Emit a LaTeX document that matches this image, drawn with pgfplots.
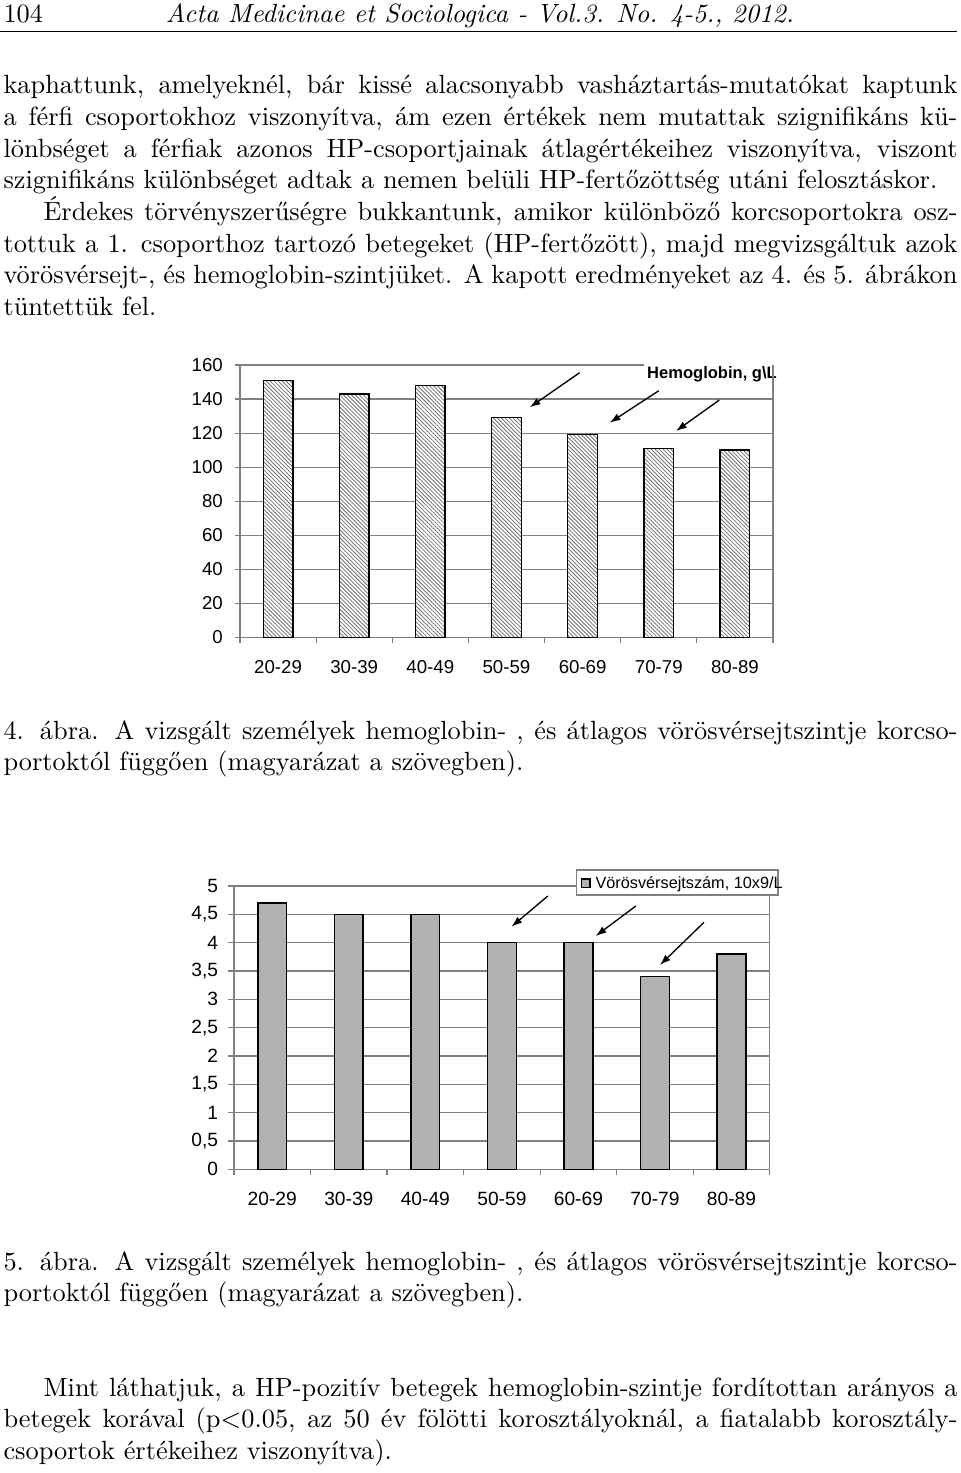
\documentclass[border=0pt]{standalone}
\usepackage{fontspec}
\usepackage{pgfplots}
\pgfplotsset{compat=1.18}
\usetikzlibrary{patterns.meta,arrows.meta}
\newfontfamily\arial{Liberation Sans}
\definecolor{gridc}{RGB}{128,128,128}
\definecolor{barg}{RGB}{178,178,178}
\definecolor{hatch}{RGB}{110,110,110}
\newcommand\bodyf{\fontsize{9.88}{11.85}\selectfont}
\newcommand\JL[2]{\node[anchor=base west,inner sep=0pt,font=\bodyf] at (3,#1) {\makebox[357.75pt][s]{#2}};}
\newcommand\JI[2]{\node[anchor=base west,inner sep=0pt,font=\bodyf] at (43,#1) {\makebox[342.75pt][s]{#2}};}
\newcommand\LL[2]{\node[anchor=base west,inner sep=0pt,font=\bodyf] at (3,#1) {#2};}
\begin{document}
\begin{tikzpicture}
\useasboundingbox (0,0) rectangle (360pt,-552.375pt);
\pgfplotsset{
 mychart/.style={
  scale only axis, anchor=south west,
  xmin=-0.5, xmax=6.5, xtick={0,1,2,3,4,5,6},
  xticklabels={20-29,30-39,40-49,50-59,60-69,70-79,80-89},
  ymin=0, major tick length=0pt, tick style={draw=none},
  axis line style={draw=gridc, line width=0.45pt},
  ymajorgrids, major grid style={draw=gridc, line width=0.45pt},
  ybar, clip=false,
  xticklabel style={anchor=north, inner sep=0pt, yshift=-8.3pt},
  yticklabel style={anchor=east, inner sep=0pt},
  ticklabel style={font=\arial\fontsize{7}{8}\selectfont},
 }
}
% ---- Chart 1: Hemoglobin
\begin{axis}[mychart, at={(90pt,-239.0625pt)}, width=199.875pt, height=102.19pt,
  ymax=160, ytick={0,20,40,60,80,100,120,140,160},
  yticklabels={0,20,40,60,80,100,120,140,160},
  bar width=11.1pt, yticklabel style={xshift=-6.25pt}]
\addplot[draw=black, line width=0.5pt, fill=white,
  postaction={pattern color=hatch, pattern={Lines[angle=-45,distance=1.05pt,line width=0.3pt]}}]
  coordinates {(0,151) (1,143) (2,148) (3,129) (4,119) (5,111) (6,110)};
\pgfplotsinvokeforeach{0,20,40,60,80,100,120,140,160}{\draw[gridc,line width=0.45pt] (axis cs:-0.5,#1) -- ++(-1.9pt,0pt);}
\pgfplotsinvokeforeach{-0.5,0.5,1.5,2.5,3.5,4.5,5.5,6.5}{\draw[gridc,line width=0.45pt] (axis cs:#1,0) -- ++(0pt,-2.1pt);}
\end{axis}
% ---- Chart 2: red blood cell count
\begin{axis}[mychart, at={(87.75pt,-438.49pt)}, width=200.925pt, height=106.24pt,
  ymax=5, ytick={0,0.5,1,1.5,2,2.5,3,3.5,4,4.5,5},
  yticklabels={0,{0,5},1,{1,5},2,{2,5},3,{3,5},4,{4,5},5},
  bar width=10.76pt, yticklabel style={xshift=-5.74pt},
  ticklabel style={font=\arial\fontsize{7.2}{8.5}\selectfont}]
\addplot[draw=black, line width=0.55pt, fill=barg]
  coordinates {(0,4.7) (1,4.5) (2,4.5) (3,4.0) (4,4.0) (5,3.4) (6,3.8)};
\pgfplotsinvokeforeach{0,0.5,1,1.5,2,2.5,3,3.5,4,4.5,5}{\draw[gridc,line width=0.45pt] (axis cs:-0.5,#1) -- ++(-2.1pt,0pt);}
\pgfplotsinvokeforeach{-0.5,0.5,1.5,2.5,3.5,4.5,5.5,6.5}{\draw[gridc,line width=0.45pt] (axis cs:#1,0) -- ++(0pt,-2.1pt);}
\end{axis}
\begin{scope}[x=0.375pt,y=-0.375pt]
% header
\node[anchor=base west,inner sep=0pt,font=\bodyf] at (3,23) {104};
\node[anchor=base,inner sep=0pt,font=\bodyf\itshape] at (480,23) {Acta Medicinae et Sociologica - Vol.3. No. 4-5., 2012.};
\draw[line width=0.4pt] (0,31.5) -- (957,31.5);
% paragraph
\JL{94}{kaphattunk, amelyeknél, bár kissé alacsonyabb vasháztartás-mutatókat kaptunk}
\JL{125.6}{a férfi csoportokhoz viszonyítva, ám ezen értékek nem mutattak szignifikáns kü-}
\JL{157.2}{lönbséget a férfiak azonos HP-csoportjainak átlagértékeihez viszonyítva, viszont}
\LL{188.8}{szignifikáns különbséget adtak a nemen belüli HP-fertőzöttség utáni felosztáskor.}
\JI{220.4}{Érdekes törvényszerűségre bukkantunk, amikor különböző korcsoportokra osz-}
\JL{252}{tottuk a 1. csoporthoz tartozó betegeket (HP-fertőzött), majd megvizsgáltuk azok}
\JL{283.6}{vörösvérsejt-, és hemoglobin-szintjüket. A kapott eredményeket az 4. és 5. ábrákon}
\LL{315.2}{tüntettük fel.}
% caption 4
\JL{739}{4. ábra. A vizsgált személyek hemoglobin- , és átlagos vörösvérsejtszintje korcso-}
\LL{770.5}{portoktól függően (magyarázat a szövegben).}
% caption 5
\JL{1270}{5. ábra. A vizsgált személyek hemoglobin- , és átlagos vörösvérsejtszintje korcso-}
\LL{1301.6}{portoktól függően (magyarázat a szövegben).}
% final paragraph
\JI{1396}{Mint láthatjuk, a HP-pozitív betegek hemoglobin-szintje fordítottan arányos a}
\JL{1427.6}{betegek korával (p$<$0.05, az 50 év fölötti korosztályoknál, a fiatalabb korosztály-}
\LL{1459.2}{csoportok értékeihez viszonyítva).}
% chart 1 legend and arrows
\fill[white] (644,361) rectangle (777,384);
\node[anchor=base west,inner sep=0pt,font=\arial\bfseries\fontsize{6.2}{7}\selectfont] at (646.7,378.5) {Hemoglobin, g\textbackslash L};
\draw[gridc,line width=0.45pt] (773,365) -- (773,637.5);
\draw[line width=0.5pt,-{Latex[length=4pt,width=2.8pt]}] (579.6,372.7) -- (529.8,407.3);
\draw[line width=0.5pt,-{Latex[length=4pt,width=2.8pt]}] (658.8,390.7) -- (609.8,422.7);
\draw[line width=0.5pt,-{Latex[length=4pt,width=2.8pt]}] (719.3,400) -- (676,431);
% chart 2 legend and arrows
\draw[gridc,fill=white,line width=0.45pt] (576.7,870) rectangle (778,895);
\draw[black,fill=barg,line width=0.4pt] (581.7,879) rectangle (590,887.3);
\node[anchor=base west,inner sep=0pt,font=\arial\fontsize{6.1}{7}\selectfont] at (595,888.3) {Vörösvérsejtszám, 10x9/L};
\draw[gridc,line width=0.45pt] (769.8,895) -- (769.8,1169.3);
\draw[line width=0.5pt,-{Latex[length=4pt,width=2.8pt]}] (547.8,896) -- (511.5,926.7);
\draw[line width=0.5pt,-{Latex[length=4pt,width=2.8pt]}] (635.8,906) -- (595.7,936);
\draw[line width=0.5pt,-{Latex[length=4pt,width=2.8pt]}] (704,922.3) -- (660,965);
\end{scope}
\end{tikzpicture}
\end{document}
